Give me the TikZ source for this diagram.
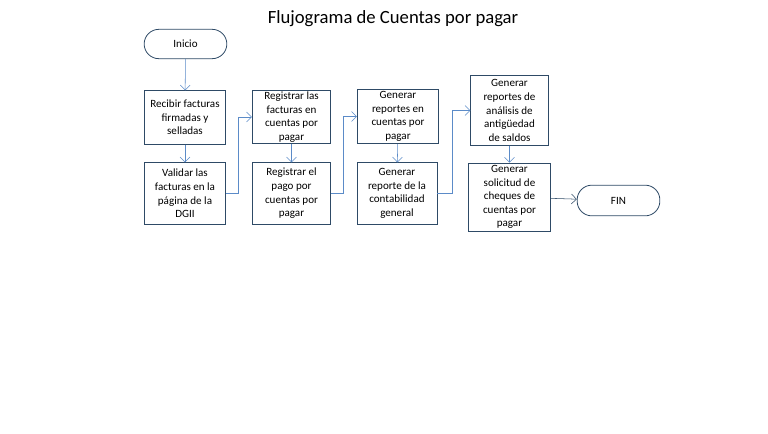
\documentclass[tikz,border=0pt]{standalone}
\usepackage{fontspec}
\setmainfont{Carlito}
\usetikzlibrary{arrows.meta}
\definecolor{boxline}{HTML}{2E4A66}
\definecolor{flowline}{HTML}{5B8BC8}
\tikzstyle{box}=[draw=boxline, semithick, align=center, inner sep=0pt, font=\fontsize{8.3}{10.2}\selectfont]
\tikzstyle{term}=[draw=boxline, semithick, rounded corners=11pt, font=\fontsize{8.3}{10.2}\selectfont]
\tikzstyle{arrow}=[draw=flowline, ->, >={Straight Barb[length=1.3mm]}]

\begin{document}
\begin{tikzpicture}[x=0.75pt, y=-0.75pt]
		\useasboundingbox (0,0) rectangle (768,433);
		\begin{scope}
			\node (title) at (393, 19) {\fontsize{14}{16}\selectfont Flujograma de Cuentas por pagar};
			\node (inicio)[term, minimum width=62pt, minimum height=22pt] at (185.5, 44) {Inicio};
			\node (recibir)[box, minimum width=61pt, minimum height=40pt] at (185, 117.5) {Recibir facturas\\firmadas y\\selladas};
			\node (validar)[box, minimum width=61pt, minimum height=46pt] at (185, 193.5) {Validar las\\facturas en la\\página de la\\DGII};
			\node (registro)[box, minimum width=59pt, minimum height=40pt] at (291.5, 117) {Registrar las\\facturas en\\cuentas por\\pagar};
			\node (pago)[box, minimum width=59pt, minimum height=46pt] at (291.5, 193.5) {Registrar el\\pago por\\cuentas por\\pagar};
			\node (reportes)[box, minimum width=61pt, minimum height=41pt] at (398, 116.5) {Generar\\reportes en\\cuentas por\\pagar};
			\node (contab)[box, minimum width=60pt, minimum height=46pt] at (397, 193.5) {Generar\\reporte de la\\contabilidad\\general};
			\node (analisis)[box, minimum width=58pt, minimum height=52pt] at (509.5, 110.5) {Generar\\reportes de\\análisis de\\antigüedad\\de saldos};
			\node (solicitud)[box, minimum width=62pt, minimum height=51pt] at (509.5, 197) {Generar\\solicitud de\\cheques de\\cuentas por\\pagar};
			\node (fin)[term, minimum width=62pt, minimum height=23pt] at (618.5, 200.5) {FIN};
		\end{scope}
		\begin{scope}
			\path [arrow] (inicio) edge (recibir);
			\path [arrow] (recibir) edge (validar);
			\draw [arrow] (validar.east) -- ++(12,0) |- (registro.west);
			\path [arrow] (registro) edge (pago);
			\draw [arrow] (pago.east) -- ++(12,0) |- (reportes.west);
			\path [arrow] (reportes) edge (contab);
			\draw [arrow] (contab.east) -- ++(15,0) |- (analisis.west);
			\path [arrow] (analisis) edge (solicitud);
			\draw [arrow, draw=boxline] (solicitud) -- (fin);
		\end{scope}
\end{tikzpicture}
\end{document}
